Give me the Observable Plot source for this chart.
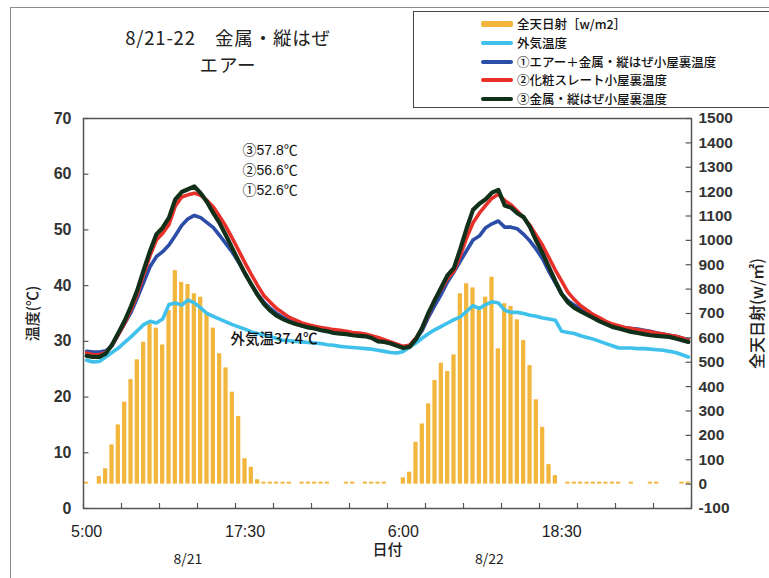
<!DOCTYPE html>
<html>
<head>
<meta charset="utf-8">
<script src="https://cdn.jsdelivr.net/npm/d3@7"></script>
<script src="https://cdn.jsdelivr.net/npm/@observablehq/plot@0.6"></script>
<style>
  body { margin: 0; background: #fff; }
  #wrap { position: relative; width: 769px; height: 578px; overflow: hidden; background: #fff; }
  #wrap svg { position: absolute; left: 0; top: 0; }
  .outer { position: absolute; left: 10px; top: 7px; width: 900px; height: 700px;
           border-left: 1.5px solid #8c8c8c; border-top: 1.5px solid #8c8c8c; }
  .title { position: absolute; left: 0; width: 456px; text-align: center; height: 27px;
           font-family: "Noto Sans CJK JP", sans-serif; font-size: 18.5px; line-height: 27px; color: #222;
           letter-spacing: 0.8px; white-space: nowrap; }
  .legend { position: absolute; left: 413px; top: 11px; width: 400px; height: 95px;
            border: 1px solid #444; background: #fff; }
  .row { position: absolute; left: 0; height: 18px; font-family: "Noto Sans CJK JP", sans-serif;
         font-size: 12.5px; font-weight: 500; color: #111; }
  .sw { position: absolute; left: 67px; width: 32px; top: 50%; border-radius: 2px; }
  .lt { position: absolute; left: 103px; top: 0; line-height: 18px; white-space: nowrap; }
</style>
</head>
<body>
<div id="wrap">
  <div class="outer"></div>
  <div class="title" style="top: 24px;">8/21-22　金属・縦はぜ</div>
  <div class="title" style="top: 51px;">エアー</div>
  <div class="legend" id="legend"></div>
</div>
<script>
// ---- data (30-minute slots from 8/21 5:00) ----
const solar = [
  8, 0, 31, 63, 161, 243, 336, 429, 510, 582,
  658, 640, 571, 712, 876, 828, 819, 781, 767, 705,
  640, 535, 477, 377, 277, 104, 69, 18, 8, 8,
  8, 8, 8, 0, 8, 8, 8, 8, 8, 0,
  0, 8, 8, 0, 8, 8, 8, 8, 0, 0,
  26, 49, 172, 247, 329, 425, 496, 462, 530, 781,
  822, 805, 712, 767, 849, 555, 740, 729, 674, 589,
  486, 346, 233, 80, 35, 0, 8, 8, 8, 8,
  8, 8, 8, 8, 8, 0, 8, 0, 0, 8,
  8, 0, 0, 0, 8, 8
];
const outdoor = [
  26.6, 26.3, 26.4, 27.2, 28.0, 28.8, 29.8, 30.8, 31.9, 33.0,
  33.6, 33.3, 34.0, 36.6, 36.9, 36.5, 37.4, 36.9, 36.0, 35.0,
  34.5, 34.0, 33.5, 33.0, 32.6, 32.2, 31.7, 31.4, 31.2, 30.9,
  30.5, 30.2, 30.1, 30.0, 29.9, 29.8, 29.7, 29.6, 29.4, 29.3,
  29.1, 29.0, 28.9, 28.8, 28.7, 28.6, 28.4, 28.2, 28.0, 27.9,
  28.2, 29.0, 29.7, 30.6, 31.4, 32.1, 32.7, 33.3, 33.9, 34.4,
  35.4, 36.4, 35.9, 36.6, 37.1, 36.9, 35.6, 35.2, 35.2, 35.0,
  34.7, 34.5, 34.2, 34.0, 33.8, 31.8, 31.6, 31.4, 31.0, 30.7,
  30.4, 30.0, 29.6, 29.2, 28.8, 28.8, 28.8, 28.7, 28.7, 28.6,
  28.5, 28.4, 28.2, 28.0, 27.6, 27.2
];
const attic1 = [
  28.2, 28.1, 28.1, 28.3, 29.2, 31.2, 33.2, 35.2, 37.8, 40.6,
  43.4, 45.2, 46.1, 47.3, 49.0, 50.8, 52.0, 52.6, 52.2, 51.3,
  50.4, 49.0, 47.5, 46.0, 44.2, 42.1, 40.2, 38.5, 37.0, 35.9,
  35.0, 34.3, 33.7, 33.2, 32.8, 32.5, 32.3, 32.1, 31.9, 31.7,
  31.6, 31.4, 31.3, 31.2, 31.1, 30.8, 30.4, 30.1, 29.7, 29.4,
  29.0, 29.3, 30.4, 32.0, 34.4, 36.5, 38.5, 40.7, 42.5, 44.4,
  46.3, 48.2, 48.9, 50.4, 51.1, 51.6, 50.5, 50.5, 50.2, 49.2,
  48.0, 46.5, 44.8, 42.5, 40.5, 38.5, 37.3, 36.5, 35.8, 35.1,
  34.5, 33.9, 33.4, 32.9, 32.7, 32.4, 32.3, 32.2, 32.0, 31.8,
  31.5, 31.3, 31.1, 30.9, 30.6, 30.3
];
const attic2 = [
  27.9, 27.6, 27.6, 28.0, 29.3, 31.2, 33.3, 35.7, 38.5, 42.0,
  45.4, 48.2, 49.4, 51.0, 54.3, 55.9, 56.3, 56.6, 56.2, 55.3,
  54.1, 52.4, 50.6, 48.5, 46.3, 44.1, 42.0, 40.0, 38.2, 37.0,
  35.9, 35.1, 34.3, 33.8, 33.3, 33.0, 32.7, 32.5, 32.3, 32.1,
  32.0, 31.8, 31.6, 31.5, 31.3, 31.0, 30.7, 30.3, 29.9, 29.5,
  29.1, 29.3, 30.6, 32.4, 34.9, 37.6, 39.4, 41.3, 42.6, 45.4,
  48.6, 51.3, 53.0, 54.4, 55.7, 56.4, 55.3, 54.5, 53.4, 52.2,
  50.8, 49.0, 47.2, 45.0, 42.8, 40.8, 38.8, 37.5, 36.4, 35.6,
  34.8, 34.2, 33.6, 33.1, 32.8, 32.5, 32.3, 32.1, 31.9, 31.7,
  31.5, 31.3, 31.1, 30.9, 30.6, 30.2
];
const attic3 = [
  27.4, 27.2, 27.2, 27.8, 29.4, 31.5, 33.7, 36.3, 39.2, 42.8,
  46.2, 49.2, 50.4, 52.2, 55.5, 56.8, 57.3, 57.8, 56.6, 55.0,
  53.0, 51.2, 49.0, 46.7, 44.4, 42.2, 40.2, 38.3, 36.7, 35.5,
  34.6, 34.0, 33.5, 33.1, 32.8, 32.5, 32.3, 32.0, 31.8, 31.5,
  31.4, 31.3, 31.1, 31.0, 30.9, 30.6, 30.0, 29.9, 29.6, 29.2,
  28.8, 29.0, 30.4, 32.5, 35.2, 37.5, 39.7, 41.9, 43.2, 46.6,
  50.3, 53.6, 54.7, 55.5, 56.7, 57.2, 54.4, 54.0, 53.0, 52.3,
  50.5, 48.0, 45.8, 43.3, 40.8, 38.5, 37.0, 36.0, 35.4, 34.8,
  34.2, 33.6, 33.1, 32.6, 32.3, 32.0, 31.7, 31.5, 31.3, 31.1,
  31.0, 30.9, 30.8, 30.5, 30.2, 29.9
];
const xTickSlots = [0, 25, 50, 75];
const xTickLabels = ["5:00", "17:30", "6:00", "18:30"];
const tempTicks = [0, 10, 20, 30, 40, 50, 60, 70];
const solarTicks = [-100, 0, 100, 200, 300, 400, 500, 600, 700, 800, 900, 1000, 1100, 1200, 1300, 1400, 1500];
const minorTickSlots = [0, 6, 12, 18, 24, 30, 36, 42, 48, 54, 60, 66, 72, 78, 84, 90, 96];
const dateLabels = [{x: 16.5, label: "8/21"}, {x: 64.1, label: "8/22"}];
const peakNotes = [
  {x: 25.1, y: 64.26, label: "③57.8℃"},
  {x: 25.1, y: 60.67, label: "②56.6℃"},
  {x: 25.1, y: 57.08, label: "①52.6℃"}
];
const outdoorNote = [{x: 23.2, y: 30.3, label: "外気温37.4℃"}];

const seriesNames = ["全天日射［w/m2］", "外気温度", "①エアー＋金属・縦はぜ小屋裏温度", "②化粧スレート小屋裏温度", "③金属・縦はぜ小屋裏温度"];
const colors = ["#f3b63c", "#3fc1ec", "#2c4ea8", "#e8302a", "#11301a"];

// ---- build ----
const T_PER_W = 70 / 1600;                 // right axis -100..1500 mapped onto 0..70
const toT = w => (w + 100) * T_PER_W;
const rows = solar.map((s, i) => ({i, solar: s, outdoor: outdoor[i], a1: attic1[i], a2: attic2[i], a3: attic3[i]}));

const font = "'Liberation Sans', Arial, 'Noto Sans CJK JP', sans-serif";
const jp = "'Noto Sans CJK JP', sans-serif";

const chart = Plot.plot({
  width: 769, height: 578,
  marginLeft: 83, marginRight: 78, marginTop: 118, marginBottom: 70,
  style: {fontFamily: font, fontSize: "15px", color: "#222", background: "transparent", overflow: "visible"},
  x: {domain: [0, 96], axis: null},
  y: {domain: [0, 70], axis: null},
  marks: [
    Plot.rectY(rows, {x1: d => d.i, x2: d => d.i + 1, y1: toT(0), y2: d => toT(d.solar), insetLeft: 1.05, insetRight: 1.05, fill: colors[0]}),
    Plot.lineY(rows, {x: d => d.i + 0.5, y: "outdoor", stroke: colors[1], strokeWidth: 3.6, strokeLinejoin: "round"}),
    Plot.lineY(rows, {x: d => d.i + 0.5, y: "a1", stroke: colors[2], strokeWidth: 3.6, strokeLinejoin: "round"}),
    Plot.lineY(rows, {x: d => d.i + 0.5, y: "a2", stroke: colors[3], strokeWidth: 3.6, strokeLinejoin: "round"}),
    Plot.lineY(rows, {x: d => d.i + 0.5, y: "a3", stroke: colors[4], strokeWidth: 4.2, strokeLinejoin: "round"}),
    Plot.frame({stroke: "#555", strokeWidth: 1.5}),
    Plot.ruleY(tempTicks, {y: d => d, x1: 0, x2: 0.85, stroke: "#555", strokeWidth: 1.2}),
    Plot.ruleY(solarTicks, {y: d => toT(d), x1: 95.15, x2: 96, stroke: "#555", strokeWidth: 1.2}),
    Plot.ruleX(minorTickSlots, {x: d => d, y1: 0, y2: 0.9, stroke: "#555", strokeWidth: 1.2}),
    Plot.axisY(tempTicks, {anchor: "left", tickSize: 0, tickPadding: 12, label: null, fontSize: 16, fontWeight: "bold", fill: "#333"}),
    Plot.axisY(solarTicks.map(toT), {anchor: "right", tickSize: 0, tickPadding: 7, label: null, fontSize: 15.5, fontWeight: "bold", fill: "#333",
      tickFormat: d => String(Math.round(d / T_PER_W - 100))}),
    Plot.axisX(xTickSlots.map(s => s + 0.5), {anchor: "bottom", tickSize: 0, tickPadding: 17, label: null, fontSize: 16, fill: "#222",
      tickFormat: d => xTickLabels[xTickSlots.indexOf(Math.round(d - 0.5))]}),
    Plot.text(dateLabels, {x: "x", text: "label", frameAnchor: "bottom", dy: 55, fontFamily: jp, fontSize: 14, fill: "#222"}),
    Plot.text(["日付"], {text: d => d, frameAnchor: "bottom", dy: 46, fontFamily: jp, fontSize: 15, fontWeight: 500, fill: "#222"}),
    Plot.text(["温度(℃)"], {text: d => d, frameAnchor: "left", textAnchor: "middle", dx: -50, rotate: -90, fontFamily: jp, fontSize: 15, fontWeight: 500, fill: "#222"}),
    Plot.text(["全天日射(w/㎡)"], {text: d => d, frameAnchor: "right", textAnchor: "middle", dx: 66, rotate: -90, fontFamily: jp, fontSize: 16, fontWeight: 500, fill: "#222"}),
    Plot.text(peakNotes, {x: "x", y: "y", text: "label", textAnchor: "start", fontSize: 14, fill: "#111"}),
    Plot.text(outdoorNote, {x: "x", y: "y", text: "label", textAnchor: "start", fontFamily: jp, fontSize: 14.5, fontWeight: 500, fill: "#111"})
  ]
});
document.getElementById("wrap").prepend(chart);

// legend
const legend = document.getElementById("legend");
seriesNames.forEach((name, k) => {
  const row = document.createElement("div");
  row.className = "row";
  row.style.top = (3 + k * 18.8) + "px";
  const sw = document.createElement("div");
  sw.className = "sw";
  const h = k === 0 ? 6 : 4;
  sw.style.height = h + "px";
  sw.style.marginTop = (-h / 2) + "px";
  sw.style.background = colors[k];
  const t = document.createElement("div");
  t.className = "lt";
  t.textContent = name;
  row.appendChild(sw);
  row.appendChild(t);
  legend.appendChild(row);
});
</script>
</body>
</html>
